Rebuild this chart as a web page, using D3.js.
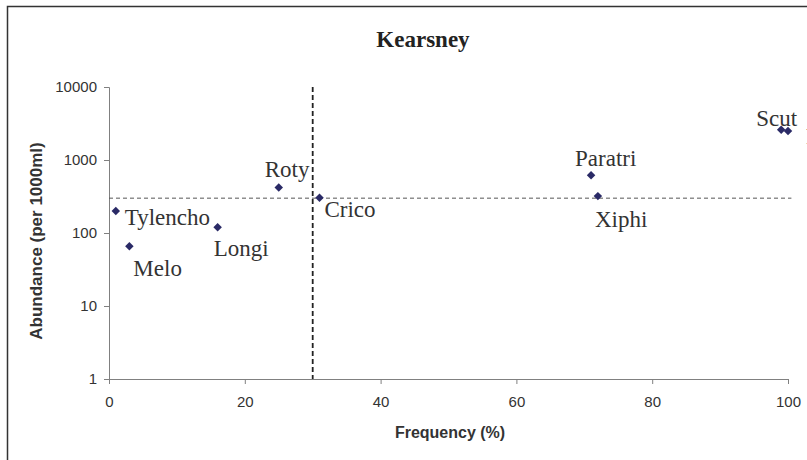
<!DOCTYPE html>
<html>
<head>
<meta charset="utf-8">
<script src="https://cdn.jsdelivr.net/npm/d3@7"></script>
<style>
  html, body { margin: 0; padding: 0; background: #fff; }
  svg { display: block; }
</style>
</head>
<body>
<svg id="chart" width="807" height="460"></svg>
<script>
// Nematode genera: frequency of occurrence (%) vs abundance (per 1000 ml)
const genera     = ["Tylencho", "Melo", "Longi", "Roty", "Crico", "Paratri", "Xiphi", "Scut", "Helico"];
const frequency  = [1, 3, 16, 25, 31, 71, 72, 99, 100];
const abundance  = [200, 66, 120, 420, 305, 620, 320, 2600, 2500];

// Threshold reference lines
const freqThreshold = 30;
const abunThreshold = 300;

const xTicks = [0, 20, 40, 60, 80, 100];
const yTicks = [1, 10, 100, 1000, 10000];

// label placement relative to each marker (dx, dy in px)
const labelOffset = {
  Tylencho: [9, 14], Melo: [4, 30], Longi: [-4, 29], Roty: [-14, -11],
  Crico: [5, 19], Paratri: [-16, -9], Xiphi: [-3, 31], Scut: [-25, -4],
  Helico: [18, 13]
};

const svg = d3.select("#chart");
const W = 807, H = 460;
const plot = { left: 109, right: 788, top: 87, bottom: 379 };

const x = d3.scaleLinear().domain([0, 100]).range([plot.left, plot.right]);
const y = d3.scaleLog().domain([1, 10000]).range([plot.bottom, plot.top]);

const sans = "'Liberation Sans', Arial, sans-serif";
const serif = "'Liberation Serif', 'Times New Roman', serif";

// chart frame
svg.append("rect")
  .attr("x", 7.5).attr("y", 6.5).attr("width", W + 20).attr("height", H + 20)
  .attr("fill", "#fff").attr("stroke", "#333").attr("stroke-width", 1.5);

// title
svg.append("text")
  .attr("x", 423).attr("y", 47)
  .attr("text-anchor", "middle")
  .attr("font-family", serif)
  .attr("font-weight", "bold").attr("font-size", 23)
  .attr("fill", "#222")
  .text("Kearsney");

// axes
const axisColor = "#808080";
const xAxis = svg.append("g")
  .attr("transform", `translate(0,${plot.bottom})`)
  .call(d3.axisBottom(x).tickValues(xTicks).tickSize(5).tickSizeOuter(5).tickPadding(12));
const yAxis = svg.append("g")
  .attr("transform", `translate(${plot.left},0)`)
  .call(d3.axisLeft(y).tickValues(yTicks).tickFormat(d3.format("d")).tickSize(5).tickSizeOuter(5).tickPadding(7));

[xAxis, yAxis].forEach(g => {
  g.selectAll("path, line").attr("stroke", axisColor).attr("stroke-width", 1);
  g.selectAll("text")
    .attr("font-family", sans)
    .attr("font-size", 15).attr("fill", "#333");
});

// axis titles
svg.append("text")
  .attr("x", 450).attr("y", 438)
  .attr("text-anchor", "middle")
  .attr("font-family", sans)
  .attr("font-weight", "bold").attr("font-size", 16).attr("fill", "#333")
  .text("Frequency (%)");

svg.append("text")
  .attr("transform", `translate(38,241) rotate(-90)`)
  .attr("text-anchor", "middle")
  .attr("dominant-baseline", "middle")
  .attr("font-family", sans)
  .attr("font-weight", "bold").attr("font-size", 17).attr("fill", "#333")
  .text("Abundance (per 1000ml)");

// threshold lines
svg.append("line")
  .attr("x1", x(0)).attr("x2", x(100.5))
  .attr("y1", y(abunThreshold)).attr("y2", y(abunThreshold))
  .attr("stroke", "#555").attr("stroke-width", 1)
  .attr("stroke-dasharray", "4,3");

svg.append("line")
  .attr("x1", x(freqThreshold)).attr("x2", x(freqThreshold))
  .attr("y1", y(10000)).attr("y2", y(1))
  .attr("stroke", "#222").attr("stroke-width", 1.8)
  .attr("stroke-dasharray", "5,3");

// points
const data = genera.map((g, i) => ({ name: g, f: frequency[i], a: abundance[i] }));

svg.append("g").selectAll("path")
  .data(data)
  .join("path")
  .attr("d", d3.symbol().type(d3.symbolSquare).size(36))
  .attr("transform", d => `translate(${x(d.f)},${y(d.a)}) rotate(45)`)
  .attr("fill", "#2a2a66");

svg.append("g").selectAll("text")
  .data(data)
  .join("text")
  .attr("x", d => x(d.f) + labelOffset[d.name][0])
  .attr("y", d => y(d.a) + labelOffset[d.name][1])
  .attr("font-family", serif)
  .attr("font-size", 23).attr("fill", "#333")
  .text(d => d.name);
</script>
</body>
</html>
